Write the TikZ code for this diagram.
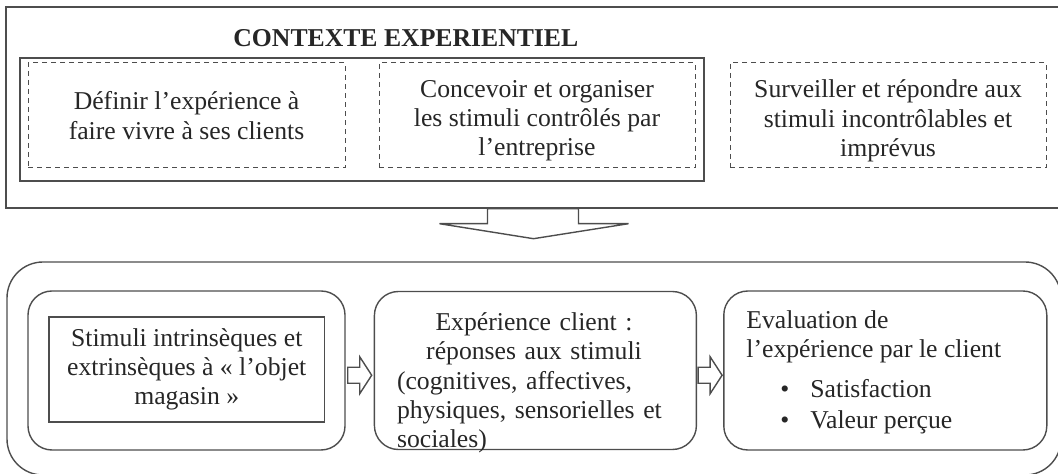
\documentclass[tikz,border=0pt]{standalone}
\usepackage{fontspec}
\setmainfont{Liberation Serif}
\usepackage{tikz}
\usetikzlibrary{positioning, calc}
\definecolor{LineGray}{HTML}{4D4D4D}
\definecolor{TextGray}{HTML}{262626}
\newcommand{\bodyfont}{\fontsize{12.85pt}{14.6pt}\selectfont}
\tikzset{
  % Box styles
  framebox/.style={rectangle, draw=LineGray, line width=0.7pt, inner sep=0pt},
  taskbox/.style={rectangle, draw=LineGray, line width=0.5pt, dash pattern=on 2.5pt off 2pt, minimum width=158pt, minimum height=52.5pt, inner sep=0pt},
  phasebox/.style={rectangle, rounded corners=12pt, draw=LineGray, line width=0.7pt, minimum height=79.5pt, inner sep=0pt},
  bodytext/.style={text=TextGray, font=\bodyfont, inner sep=0pt},
  % Arrow styles
  hollowarrow/.style={draw=LineGray, line width=0.7pt, fill=white, line join=miter}
}

\begin{document}
\begin{tikzpicture}[x=0.5pt, y=-0.5pt]
  \useasboundingbox (0,0) rectangle (1058,474);
  \clip (0,0) rectangle (1058,474);

  % Experiential context
  \node[framebox, minimum width=529pt, minimum height=100.5pt] (ctx) at (535,107.5) {};
  \node[bodytext, font=\bodyfont\bfseries, anchor=base west] (ctxtitle) at (233,47) {CONTEXTE EXPERIENTIEL};
  \node[framebox, minimum width=342pt, minimum height=61.5pt] (ctxin) at (362,119.5) {};

  \node[taskbox, minimum width=158.5pt] (define) at (186.5,115.5) {};
  \node[taskbox, right=16.5pt of define] (design) {};
  \node[taskbox, right=17pt of design] (monitor) {};
  \node[bodytext, align=center] (definetxt) at (define.center) {Définir l’expérience à\\ faire vivre à ses clients};
  \node[bodytext, align=center] (designtxt) at ([yshift=-2.75pt]design.center) {Concevoir et organiser\\ les stimuli contrôlés par\\ l’entreprise};
  \node[bodytext, align=center] (monitortxt) at ([yshift=-2.75pt]monitor.center) {Surveiller et répondre aux\\ stimuli incontrôlables et\\ imprévus};

  % Customer side
  \node[framebox, rounded corners=18pt, minimum width=527pt, minimum height=106.5pt] (proc) at (534,368.5) {};
  \node[phasebox, minimum width=158.5pt] (stim) at (186.5,370.5) {};
  \node[phasebox, minimum width=161pt, minimum height=79pt, right=14pt of stim] (exp) {};
  \node[phasebox, minimum width=161.5pt, right=13pt of exp] (eval) {};

  \node[framebox, bodytext, align=center, minimum width=137.75pt, minimum height=52.5pt] (stimtxt) at (186.75,369.5) {Stimuli intrinsèques et\\ extrinsèques à « l’objet\\ magasin »};
  \node[bodytext, text width=137pt, align=left, anchor=north] (exptxt) at (534,312.5) {{\centering Expérience client :\\ réponses aux stimuli\par}(cognitives, affectives,\\ physiques, sensorielles et\\ sociales)};
  \node[bodytext, align=left, anchor=north west] (evaltxt) at (746,310.5) {Evaluation de\\ l’expérience par le client\\[5pt]
    \hspace*{17pt}\makebox[15pt][l]{\textbullet}Satisfaction\\[1pt]
    \hspace*{17pt}\makebox[15pt][l]{\textbullet}Valeur perçue};

  % Arrows
  \coordinate (droptop) at (ctx.south -| proc.north);
  \draw[hollowarrow] ($(droptop)+(-46.5,0)$) -- ++(0,15) -- ++(-48,0) -- ++(94,15) -- ++(95,-15) -- ++(-50,0) -- ++(0,-15) -- cycle;
  \foreach \from/\to in {stim/exp, exp/eval}
    \draw[hollowarrow] ($(\from.east)!0.5!(\to.west)+(-12,-3.25)$) -- ++(12,0) -- ++(0,-10.5) -- ++(12,18.5) -- ++(-12,18.5) -- ++(0,-10.5) -- ++(-12,0) -- cycle;
\end{tikzpicture}
\end{document}
